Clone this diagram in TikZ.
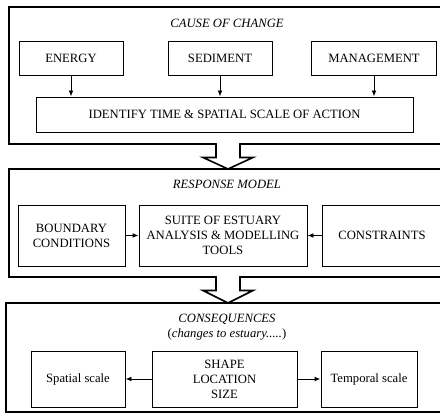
\documentclass[tikz,border=0pt]{standalone}
\usepackage{fontspec}
\setmainfont{Liberation Serif}
\usetikzlibrary{positioning}
\usetikzlibrary{arrows.meta, calc}

\begin{document}
\begin{tikzpicture}[x=0.75pt, y=-0.75pt, font=\fontsize{9.5}{11.3}\selectfont,
  frame/.style = {draw, line width=1.2pt},
  box/.style = {draw, line width=0.7pt, align=center, inner sep=2pt, minimum height=25.5pt},
  title/.style = {font=\fontsize{9.5}{11.3}\selectfont\itshape},
  link/.style = {-{Latex[length=4.5pt,width=3.6pt]}, line width=0.7pt},
  block/.style = {draw, line width=1.2pt, fill=white, line join=miter}]
\useasboundingbox (0,0) rectangle (440,413);
\clip (0,0) rectangle (440,413);

% cause of change
\draw[frame] (9,7) rectangle (470,144);
\node[title] (t1) at (227,23) {CAUSE OF CHANGE};
\node[box, minimum width=78pt] (energy) at (71,58) {ENERGY};
\node[box, minimum width=78pt] (sediment) at (220,58) {SEDIMENT};
\node[box, minimum width=94pt] (manage) at (374,58) {MANAGEMENT};
\node[box, minimum width=282.75pt, minimum height=26.25pt] (identify) at (224.5,114.5) {IDENTIFY TIME \& SPATIAL SCALE OF ACTION};
\draw[link] (energy) -- (energy |- identify.north);
\draw[link] (sediment) -- (sediment |- identify.north);
\draw[link] (manage) -- (manage |- identify.north);

% response model
\draw[frame] (9,169) rectangle (470,277);
\node[title] (t2) at (227,184) {RESPONSE MODEL};
\node[box, minimum width=80.25pt, minimum height=45.75pt] (bound) at (71.5,235.5) {BOUNDARY\\CONDITIONS};
\node[box, minimum width=126pt, minimum height=45.75pt] (suite) at (223,235.5) {SUITE OF ESTUARY\\ANALYSIS \& MODELLING\\TOOLS};
\node[box, minimum width=90pt, minimum height=45.75pt] (constr) at (382,235.5) {CONSTRAINTS};
\draw[link] (bound) -- (suite);
\draw[link] (constr) -- (suite);

% consequences
\draw[frame] (6,303) rectangle (470,412);
\node[title] (t3) at (227,319) {CONSEQUENCES};
\node (t3b) [below=-3.5pt of t3] {(\textit{changes to estuary.....})};
\node[box, minimum width=70.5pt, minimum height=42pt] (spatial) at (78,379) {Spatial scale};
\node[box, minimum width=108.75pt, minimum height=42pt] (shape) at (224.5,379) {SHAPE\\LOCATION\\SIZE};
\node[box, minimum width=72pt, minimum height=42pt] (temporal) at (369,379) {Temporal scale};
\draw[link] (shape) -- (spatial);
\draw[link] (shape) -- (temporal);

% block arrows between the frames
\coordinate (c1) at (228,144);
\coordinate (r1) at (228,169);
\coordinate (c2) at (228,277);
\coordinate (r2) at (228,303);
\fill[white] ($(c1)+(-11.4,-2)$) rectangle ($(c1)+(11.4,2)$);
\draw[block] ($(c1)+(-12,0)$) -- ($(c1)+(-12,13.5)$) -- ($(c1)+(-25,13.5)$) -- (r1)
  -- ($(c1)+(25,13.5)$) -- ($(c1)+(12,13.5)$) -- ($(c1)+(12,0)$);
\fill[white] ($(c2)+(-11.4,-2)$) rectangle ($(c2)+(11.4,2)$);
\draw[block] ($(c2)+(-12,0)$) -- ($(c2)+(-12,13.5)$) -- ($(c2)+(-25,13.5)$) -- (r2)
  -- ($(c2)+(25,13.5)$) -- ($(c2)+(12,13.5)$) -- ($(c2)+(12,0)$);
\end{tikzpicture}
\end{document}
